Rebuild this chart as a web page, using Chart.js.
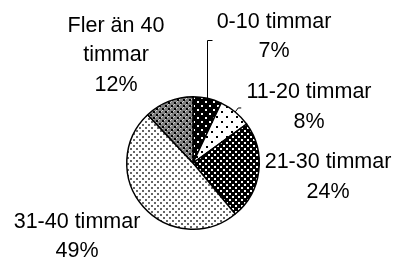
<!DOCTYPE html>
<html>
<head>
<meta charset="utf-8">
<script src="https://cdn.jsdelivr.net/npm/chart.js@4.4.1/dist/chart.umd.min.js"></script>
<style>
html,body{margin:0;padding:0;background:#fff;}
canvas{display:block;}
</style>
</head>
<body>
<canvas id="c" width="396" height="262"></canvas>
<script>
// Data
const categories = [["0-10 timmar"], ["11-20 timmar"], ["21-30 timmar"], ["31-40 timmar"], ["Fler än 40", "timmar"]];
const values = [7, 8, 24, 49, 12];
const percentLabels = ["7%", "8%", "24%", "49%", "12%"];

function makePattern(size, bg, fg, dots) {
  const c = document.createElement('canvas');
  c.width = size; c.height = size;
  const x = c.getContext('2d');
  x.fillStyle = bg; x.fillRect(0, 0, size, size);
  x.fillStyle = fg;
  dots.forEach(d => x.fillRect(d[0], d[1], d[2], d[3]));
  return x.createPattern(c, 'repeat');
}
const ctx0 = document.getElementById('c').getContext('2d');
function fler() {
  const c = document.createElement('canvas');
  c.width = 6; c.height = 6;
  const x = c.getContext('2d');
  x.fillStyle = '#808080'; x.fillRect(0, 0, 6, 6);
  x.fillStyle = '#000';
  x.fillRect(0, 0, 2, 2); x.fillRect(3, 3, 2, 2);
  x.fillStyle = '#d0d0d0';
  x.fillRect(2, 0, 1, 1); x.fillRect(0, 2, 1, 1); x.fillRect(5, 3, 1, 1); x.fillRect(3, 5, 1, 1);
  return ctx0.createPattern(c, 'repeat');
}
const patterns = [
  makePattern(8, '#000', '#fff', [[1,1,2,2],[5,5,2,2]]),
  makePattern(10, '#fff', '#000', [[1,1,2,2],[6,6,2,2]]),
  makePattern(6, '#000', '#fff', [[1,1,2,2],[4,4,2,2]]),
  makePattern(6, '#fff', '#666', [[1,1,2,2],[4,4,2,2]]),
  fler()
];

const labelPlugin = {
  id: 'outLabels',
  afterDraw(chart) {
    const ctx = chart.ctx;
    const meta = chart.getDatasetMeta(0);
    // label anchor offsets relative to pie centre (text centre of first line)
    const offs = [[81, -141], [116, -70.5], [135, -0.5], [-116, 59], [-77, -137]];
    const lh = 29.5;
    ctx.save();
    ctx.fillStyle = '#000';
    ctx.font = '21.5px "Liberation Sans", Arial, sans-serif';
    ctx.textAlign = 'center';
    ctx.textBaseline = 'middle';
    meta.data.forEach((arc, i) => {
      const p = arc.getProps(['x', 'y', 'startAngle', 'endAngle', 'outerRadius'], true);
      const lines = categories[i].concat([percentLabels[i]]);
      const lx = p.x + offs[i][0], ly = p.y + offs[i][1];
      lines.forEach((t, k) => ctx.fillText(t, lx, ly + k * lh));
      const mid = (p.startAngle + p.endAngle) / 2;
      const ex = p.x + Math.cos(mid) * p.outerRadius;
      const ey = p.y + Math.sin(mid) * p.outerRadius;
      ctx.strokeStyle = '#000';
      ctx.lineWidth = 1;
      if (i === 0) {
        ctx.beginPath();
        ctx.moveTo(Math.round(ex) + 0.5, ey);
        ctx.lineTo(Math.round(ex) + 0.5, ly + 18.5);
        ctx.lineTo(Math.round(ex) + 5.5, ly + 18.5);
        ctx.stroke();
      } else if (i === 1) {
        ctx.beginPath();
        ctx.moveTo(ex, ey);
        ctx.lineTo(ex + 3, ey - 4);
        ctx.lineTo(ex + 6, ey - 4);
        ctx.stroke();
      }
    });
    ctx.restore();
  }
};

new Chart(document.getElementById('c'), {
  type: 'pie',
  data: {
    labels: categories,
    datasets: [{
      data: values,
      backgroundColor: patterns,
      borderColor: '#000',
      borderWidth: 1.5
    }]
  },
  options: {
    responsive: false,
    devicePixelRatio: 1,
    animation: false,
    layout: { padding: { left: 126, top: 96, right: 136, bottom: 32 } },
    plugins: { legend: { display: false }, tooltip: { enabled: false } }
  },
  plugins: [labelPlugin]
});
</script>
</body>
</html>
